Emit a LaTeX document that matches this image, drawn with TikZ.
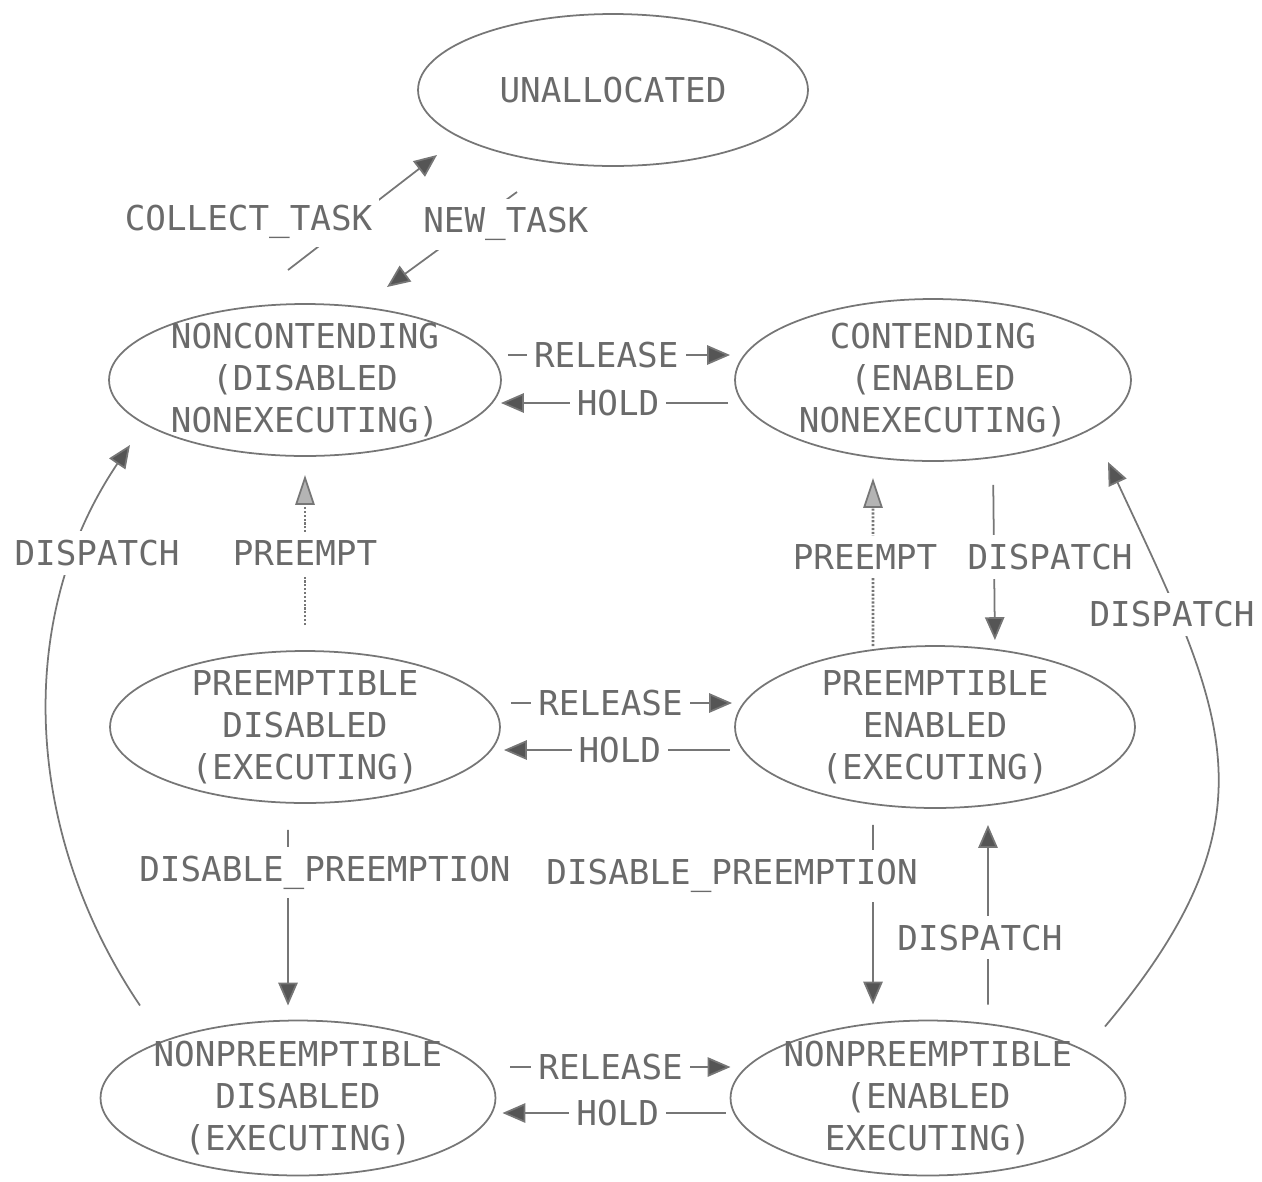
\documentclass[tikz,border=0pt]{standalone}
\usepackage{fontspec}
\setmonofont{DejaVu Sans Mono}
\usepackage{tikz}
\usetikzlibrary{arrows.meta}
\usetikzlibrary{shapes.geometric}

\begin{document}
\begin{tikzpicture}[x = 0.02cm, y = -0.02cm]
    \definecolor{plot_gray}{HTML}{767676}
    \definecolor{ink_gray}{HTML}{6A6A6A}
    \definecolor{head_gray}{HTML}{555555}
    \tikzstyle{state}=[ellipse, draw = plot_gray, line width = 1pt,
                       inner sep = -4pt, outer sep = 0pt, align = center,
                       text = ink_gray, font = \ttfamily\fontsize{19.5}{24}\selectfont]
    \tikzstyle{event}=[fill = white, inner xsep = 4pt, inner ysep = 5pt,
                       text = ink_gray, font = \ttfamily\fontsize{19.5}{24}\selectfont]
    \tikzstyle{flow}=[draw = plot_gray, line width = 1pt,
                      -{Triangle[length = 13pt, width = 11pt, fill = head_gray]}]
    \tikzstyle{preempt}=[draw = plot_gray, line width = 1.6pt, dash pattern = on 1.2pt off 1pt,
                         -{Triangle[length = 17pt, width = 11pt, line width = 1pt, fill = plot_gray!55]}]
    \useasboundingbox (0,0) rectangle (1262,1181);

    \node[state, minimum width = 7.8cm, minimum height = 3.04cm] (unallocated) at (613,90) {UNALLOCATED};
    \node[state, minimum width = 7.84cm, minimum height = 3.04cm] (noncontending) at (305,380) {NONCONTENDING\\(DISABLED\\NONEXECUTING)};
    \node[state, minimum width = 7.92cm, minimum height = 3.24cm] (contending) at (933,380) {CONTENDING\\(ENABLED\\NONEXECUTING)};
    \node[state, minimum width = 7.8cm, minimum height = 3.04cm] (pdisabled) at (305,727) {PREEMPTIBLE\\DISABLED\\(EXECUTING)};
    \node[state, minimum width = 8cm, minimum height = 3.24cm] (penabled) at (935,727) {PREEMPTIBLE\\ENABLED\\(EXECUTING)};
    \node[state, minimum width = 7.9cm, minimum height = 3.1cm] (npdisabled) at (298,1098) {NONPREEMPTIBLE\\DISABLED\\(EXECUTING)};
    \node[state, minimum width = 7.9cm, minimum height = 3.1cm] (npenabled) at (928,1098) {NONPREEMPTIBLE\\(ENABLED\\EXECUTING)};

    \draw[flow] ([shift={(-17,-34)}]noncontending.north) -- node[event, pos = 0.42, xshift = -2.04cm] {COLLECT\_TASK} ([shift={(-176,-11)}]unallocated.south);
    \draw[flow] ([shift={(-96,26)}]unallocated.south) -- node[event, pos = 0.34, xshift = 0.66cm] {NEW\_TASK} ([shift={(82,-17)}]noncontending.north);

    \draw[flow, shorten <= 0.14cm, shorten >= 0.1cm] ([yshift = 0.5cm]noncontending.east) -- node[event, pos = 0.45] {RELEASE} ([yshift = 0.5cm]contending.west);
    \draw[flow, shorten <= 0.14cm] ([yshift = -0.46cm]contending.west) -- node[event] {HOLD} ([yshift = -0.46cm]noncontending.east);

    \draw[preempt, shorten <= 0.52cm, shorten >= 0.38cm] (pdisabled.north) -- node[event] {PREEMPT} (noncontending.south);
    \draw[preempt, shorten >= 0.34cm] ([xshift = -1.24cm]penabled.north) -- node[event, pos = 0.48, xshift = -0.16cm] {PREEMPT} ([xshift = -1.2cm]contending.south);
    \draw[flow, shorten <= 0.48cm, shorten >= 0.12cm] ([xshift = 1.2cm]contending.south) -- node[event, pos = 0.52, xshift = 1.12cm] {DISPATCH} ([xshift = 1.2cm]penabled.north);

    \draw[flow, shorten <= 0.22cm, shorten >= 0.06cm] ([yshift = 0.48cm]pdisabled.east) -- node[event, pos = 0.47] {RELEASE} ([yshift = 0.48cm]penabled.west);
    \draw[flow, shorten <= 0.1cm, shorten >= 0.08cm] ([yshift = -0.46cm]penabled.west) -- node[event, pos = 0.49] {HOLD} ([yshift = -0.46cm]pdisabled.east);

    \draw[flow, shorten <= 0.54cm, shorten >= 0.3cm] ([xshift = -0.34cm]pdisabled.south) -- node[event, pos = 0.32, xshift = 0.74cm] {DISABLE\_PREEMPTION} ([xshift = -0.2cm]npdisabled.north);
    \draw[flow, shorten <= 0.34cm, shorten >= 0.32cm] ([xshift = -1.24cm]penabled.south) -- node[event, pos = 0.32, xshift = -2.82cm] {DISABLE\_PREEMPTION} ([xshift = -1.1cm]npenabled.north);
    \draw[flow, shorten <= 0.32cm, shorten >= 0.34cm] ([xshift = 1.2cm]npenabled.north) -- node[event, pos = 0.39, xshift = -0.16cm] {DISPATCH} ([xshift = 1.06cm]penabled.south);

    \draw[flow, shorten <= 0.3cm] ([yshift = 0.62cm]npdisabled.east) -- node[event, pos = 0.49] {RELEASE} ([yshift = 0.62cm]npenabled.west);
    \draw[flow, shorten <= 0.1cm, shorten >= 0.14cm] ([yshift = -0.3cm]npenabled.west) -- node[event, pos = 0.48] {HOLD} ([yshift = -0.3cm]npdisabled.east);

    \draw[flow] ([shift={(-158,-15)}]npdisabled.north) to[out = 124, in = 236, looseness = 0.95] node[event, pos = 0.8, xshift = 0.44cm] {DISPATCH} ([shift={(-175,-11)}]noncontending.south);
    \draw[flow] ([shift={(177,6)}]npenabled.north) to[out = 50, in = 295, looseness = 1.25] node[event, pos = 0.77, xshift = -0.1cm] {DISPATCH} ([shift={(175,1)}]contending.south);
\end{tikzpicture}
\end{document}
